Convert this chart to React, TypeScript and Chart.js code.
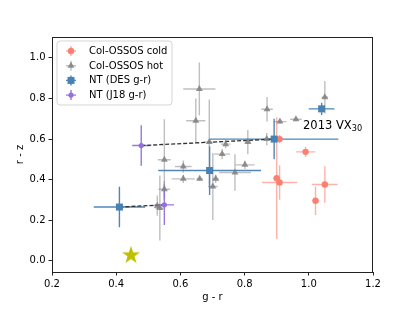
import React, { useEffect, useRef } from "react";
import { Chart, registerables } from "chart.js";

Chart.register(...registerables);

// ---------- data ----------
const xTicks = [0.2, 0.4, 0.6, 0.8, 1.0, 1.2];
const yTicks = [0.0, 0.2, 0.4, 0.6, 0.8, 1.0];

const coldX = [0.909, 0.99, 0.9, 0.909, 1.05, 1.021];
const coldY = [0.6, 0.537, 0.407, 0.386, 0.376, 0.296];
const coldXErr = [0.01, 0.03, 0.01, 0.055, 0.04, 0.01];
const coldYErr = [0.02, 0.025, 0.3, 0.085, 0.09, 0.07];

const hotX = [0.659, 0.648, 0.69, 0.55, 0.609, 0.741, 0.73, 0.81, 0.87, 0.869, 0.91, 0.96, 1.05, 0.609, 0.66, 0.71, 0.801, 0.77, 0.701, 0.55, 0.536, 0.528];
const hotY = [0.847, 0.69, 0.585, 0.498, 0.465, 0.575, 0.526, 0.585, 0.747, 0.6, 0.686, 0.698, 0.806, 0.404, 0.404, 0.404, 0.473, 0.435, 0.366, 0.353, 0.26, 0.272];
const hotXErr = [0.05, 0.03, 0.018, 0.02, 0.026, 0.015, 0.025, 0.01, 0.018, 0.01, 0.02, 0.018, 0.01, 0.036, 0.01, 0.01, 0.03, 0.05, 0.015, 0.018, 0.015, 0.02];
const hotYErr = [0.13, 0.11, 0.21, 0.2, 0.03, 0.02, 0.025, 0.06, 0.06, 0.03, 0.01, 0.01, 0.08, 0.02, 0.01, 0.02, 0.02, 0.09, 0.165, 0.04, 0.16, 0.05];

const desX = [0.41, 0.691, 0.892, 1.04];
const desY = [0.265, 0.445, 0.6, 0.749];
const desXErr = [0.08, 0.16, 0.2, 0.04];
const desYErr = [0.1, 0.12, 0.1, 0.03];

const j18X = [0.478, 0.55];
const j18Y = [0.568, 0.276];
const j18XErr = [0.028, 0.03];
const j18YErr = [0.1, 0.1];

const sunX = [0.446];
const sunY = [0.03];

const labelText = "2013 VX";
const labelSub = "30";
const labelX = 0.982;
const labelY = 0.65;

const legendLabels = ["Col-OSSOS cold", "Col-OSSOS hot", "NT (DES g-r)", "NT (J18 g-r)"];

// ---------- styles ----------
const FONT = "DejaVu Sans";
const cSalmon = "#fa8072";
const cGrey = "rgba(128,128,128,0.85)";
const cBlue = "#4682b4";
const cPurple = "#9370db";
const cStar = "#bfbf00";

const errStyles = [
  { color: "rgba(250,128,114,0.6)", xe: coldXErr, ye: coldYErr, xs: coldX, ys: coldY },
  { color: "rgba(128,128,128,0.5)", xe: hotXErr, ye: hotYErr, xs: hotX, ys: hotY },
  { color: "rgba(70,130,180,0.95)", xe: desXErr, ye: desYErr, xs: desX, ys: desY },
  { color: "rgba(147,112,219,0.95)", xe: j18XErr, ye: j18YErr, xs: j18X, ys: j18Y },
];

function pts(xs: number[], ys: number[]) {
  return xs.map((x, i) => ({ x, y: ys[i] }));
}

function makeStar(): HTMLCanvasElement {
  const c = document.createElement("canvas");
  c.width = 20;
  c.height = 20;
  const ctx = c.getContext("2d")!;
  const R = 9.5;
  const r = R * 0.382;
  ctx.beginPath();
  for (let i = 0; i < 10; i++) {
    const a = -Math.PI / 2 + (i * Math.PI) / 5;
    const rr = i % 2 === 0 ? R : r;
    const px = 10 + rr * Math.cos(a);
    const py = 10.5 + rr * Math.sin(a);
    if (i === 0) ctx.moveTo(px, py);
    else ctx.lineTo(px, py);
  }
  ctx.closePath();
  ctx.fillStyle = cStar;
  ctx.fill();
  return c;
}

function drawMarker(ctx: CanvasRenderingContext2D, kind: string, x: number, y: number, color: string) {
  ctx.fillStyle = color;
  ctx.beginPath();
  if (kind === "circle") {
    ctx.arc(x, y, 3.2, 0, Math.PI * 2);
  } else if (kind === "small") {
    ctx.arc(x, y, 2.6, 0, Math.PI * 2);
  } else if (kind === "triangle") {
    const r = 4;
    ctx.moveTo(x, y - r);
    ctx.lineTo(x + r * Math.sin((2 * Math.PI) / 3), y - r * Math.cos((2 * Math.PI) / 3));
    ctx.lineTo(x + r * Math.sin((4 * Math.PI) / 3), y - r * Math.cos((4 * Math.PI) / 3));
    ctx.closePath();
  } else {
    ctx.rect(x - 3.5, y - 3.5, 7, 7);
  }
  ctx.fill();
}

const errorBarPlugin = {
  id: "errorBars",
  beforeDatasetsDraw(chart: any) {
    const { ctx, scales } = chart;
    const xs = scales.x;
    const ys = scales.y;
    ctx.save();
    ctx.lineWidth = 1.4;
    errStyles.forEach((s) => {
      ctx.strokeStyle = s.color;
      s.xs.forEach((xv, i) => {
        const yv = s.ys[i];
        const px = xs.getPixelForValue(xv);
        const py = ys.getPixelForValue(yv);
        ctx.beginPath();
        ctx.moveTo(xs.getPixelForValue(xv - s.xe[i]), py);
        ctx.lineTo(xs.getPixelForValue(xv + s.xe[i]), py);
        ctx.moveTo(px, ys.getPixelForValue(yv - s.ye[i]));
        ctx.lineTo(px, ys.getPixelForValue(yv + s.ye[i]));
        ctx.stroke();
      });
    });
    ctx.restore();
  },
};

const overlayPlugin = {
  id: "overlay",
  afterDraw(chart: any) {
    const { ctx, chartArea, scales } = chart;
    ctx.save();
    // frame
    ctx.strokeStyle = "#222";
    ctx.lineWidth = 1;
    ctx.strokeRect(chartArea.left + 0.5, chartArea.top + 0.5, chartArea.right - chartArea.left - 1, chartArea.bottom - chartArea.top);

    // annotation
    const tx = scales.x.getPixelForValue(labelX);
    const ty = scales.y.getPixelForValue(labelY);
    ctx.fillStyle = "#000";
    ctx.textBaseline = "alphabetic";
    ctx.textAlign = "left";
    ctx.font = `11.5px "${FONT}"`;
    ctx.fillText(labelText, tx, ty);
    const w = ctx.measureText(labelText).width;
    ctx.font = `8.2px "${FONT}"`;
    ctx.fillText(labelSub, tx + w, ty + 2.5);

    // legend
    const lx = chartArea.left + 5;
    const ly = chartArea.top + 4;
    const lw = 115;
    const lh = 64;
    ctx.beginPath();
    const rad = 3;
    ctx.moveTo(lx + rad, ly);
    ctx.arcTo(lx + lw, ly, lx + lw, ly + lh, rad);
    ctx.arcTo(lx + lw, ly + lh, lx, ly + lh, rad);
    ctx.arcTo(lx, ly + lh, lx, ly, rad);
    ctx.arcTo(lx, ly, lx + lw, ly, rad);
    ctx.closePath();
    ctx.fillStyle = "rgba(255,255,255,0.8)";
    ctx.fill();
    ctx.strokeStyle = "#d5d5d5";
    ctx.lineWidth = 1;
    ctx.stroke();

    const kinds = ["circle", "triangle", "rect", "small"];
    const colors = [cSalmon, cGrey, cBlue, cPurple];
    const ecolors = errStyles.map((s) => s.color);
    ctx.font = `10px "${FONT}"`;
    ctx.textBaseline = "middle";
    legendLabels.forEach((lab, i) => {
      const cy = ly + 10 + i * 14.7;
      const cx = lx + 14;
      ctx.strokeStyle = ecolors[i];
      ctx.lineWidth = 1.4;
      ctx.beginPath();
      ctx.moveTo(cx - 5, cy);
      ctx.lineTo(cx + 5, cy);
      ctx.moveTo(cx, cy - 5);
      ctx.lineTo(cx, cy + 5);
      ctx.stroke();
      drawMarker(ctx, kinds[i], cx, cy, colors[i]);
      ctx.fillStyle = "#000";
      ctx.fillText(lab, lx + 32, cy + 0.5);
    });
    ctx.restore();
  },
};

export default function App() {
  const ref = useRef<HTMLCanvasElement>(null);

  useEffect(() => {
    Chart.defaults.font.family = FONT;
    Chart.defaults.font.size = 10;
    Chart.defaults.color = "#000";
    const star = makeStar();
    const chart = new Chart(ref.current!, {
      type: "scatter",
      data: {
        datasets: [
          { label: legendLabels[0], data: pts(coldX, coldY), pointStyle: "circle", pointRadius: 3.2, backgroundColor: cSalmon, borderWidth: 0, order: 1 },
          { label: legendLabels[1], data: pts(hotX, hotY), pointStyle: "triangle", pointRadius: 4, backgroundColor: cGrey, borderWidth: 0, order: 2 },
          { label: legendLabels[2], data: pts(desX, desY), pointStyle: "rect", pointRadius: 4.95, backgroundColor: cBlue, borderWidth: 0, order: 0 },
          { label: legendLabels[3], data: pts(j18X, j18Y), pointStyle: "circle", pointRadius: 2.6, backgroundColor: cPurple, borderWidth: 0, order: 0 },
          {
            label: "link1",
            data: [{ x: j18X[0], y: j18Y[0] }, { x: desX[2], y: desY[2] }],
            showLine: true,
            pointRadius: 0,
            borderColor: "#333",
            borderWidth: 1.3,
            borderDash: [4, 2],
            order: 5,
          },
          {
            label: "link2",
            data: [{ x: desX[0], y: desY[0] }, { x: j18X[1], y: j18Y[1] }],
            showLine: true,
            pointRadius: 0,
            borderColor: "#333",
            borderWidth: 1.3,
            borderDash: [4, 2],
            order: 5,
          },
          { label: "Sun", data: pts(sunX, sunY), pointStyle: star as any, pointRadius: 10, order: 0 },
        ],
      },
      options: {
        responsive: false,
        animation: false,
        events: [],
        layout: { padding: { left: 0, right: 42, top: 37, bottom: 0 } },
        plugins: { legend: { display: false }, tooltip: { enabled: false } },
        scales: {
          x: {
            type: "linear",
            min: 0.2,
            max: 1.2,
            afterBuildTicks: (s: any) => {
              s.ticks = xTicks.map((v) => ({ value: v }));
            },
            afterFit: (s: any) => {
              s.height = 40;
            },
            ticks: { callback: (v: any) => Number(v).toFixed(1), padding: 3, maxRotation: 0, color: "#000", font: { size: 10 } },
            grid: { drawOnChartArea: false, drawTicks: true, tickLength: 3.5, color: "#222" },
            border: { display: true, color: "#222", width: 1 },
            title: { display: true, text: "g - r", color: "#000", font: { size: 10 }, padding: { top: 0, bottom: 9 } },
          },
          y: {
            type: "linear",
            min: -0.055,
            max: 1.103,
            afterBuildTicks: (s: any) => {
              s.ticks = yTicks.map((v) => ({ value: v }));
            },
            afterFit: (s: any) => {
              s.width = 52;
            },
            ticks: { callback: (v: any) => Number(v).toFixed(1), padding: 3, color: "#000", font: { size: 10 } },
            grid: { drawOnChartArea: false, drawTicks: true, tickLength: 3.5, color: "#222" },
            border: { display: true, color: "#222", width: 1 },
            title: { display: true, text: "r - z", color: "#000", font: { size: 10 }, padding: { top: 14, bottom: 0 } },
          },
        },
      },
      plugins: [errorBarPlugin, overlayPlugin],
    } as any);
    return () => chart.destroy();
  }, []);

  return (
    <div style={{ position: "absolute", left: 0, top: 0, width: 415, height: 312 }}>
      <canvas ref={ref} width={415} height={312} style={{ display: "block", width: 415, height: 312 }} />
    </div>
  );
}
